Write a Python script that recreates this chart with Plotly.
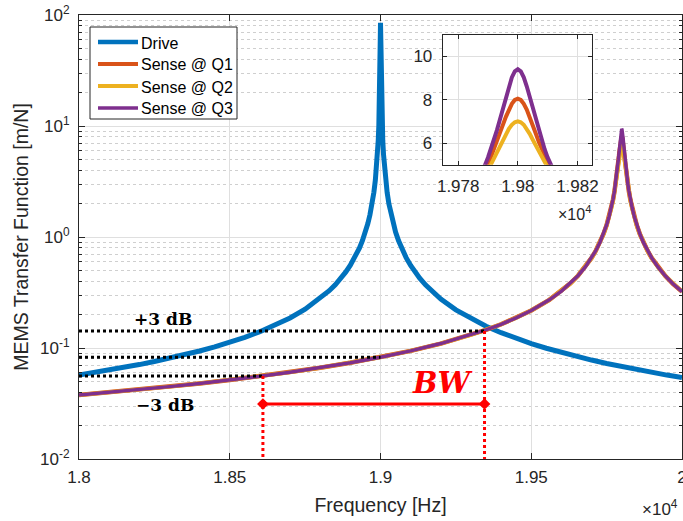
import math
import plotly.graph_objects as go

# ---------------- data ----------------
drive_freq = [18000, 18050, 18100, 18150, 18200, 18250, 18300, 18350, 18400, 18450,
              18500, 18550, 18600, 18650, 18700, 18750, 18800,
              18830, 18850, 18870, 18885, 18900, 18915, 18930, 18940, 18950, 18958,
              18965, 18972, 18978, 18983, 18987, 18990, 18992.5, 18994.5, 18996, 18997,
              18998, 18998.5, 18999, 18999.5,
              19000,
              19000.5, 19001, 19001.5, 19002, 19003, 19004, 19005.5, 19007.5, 19010, 19013,
              19017, 19022, 19028, 19035, 19042, 19050, 19060, 19070, 19085, 19100,
              19115, 19130, 19150, 19170,
              19200, 19250, 19300, 19350, 19400, 19450, 19500, 19550, 19600, 19650,
              19700, 19750, 19800, 19850, 19900, 19950, 20000]
drive_tf = [0.05703, 0.05995, 0.06319, 0.06682, 0.07090, 0.07553, 0.08081, 0.08691, 0.09403, 0.10244,
            0.11253, 0.12487, 0.14029, 0.16012, 0.18656, 0.22358, 0.27910,
            0.32809, 0.37164, 0.42859, 0.48430, 0.55673, 0.65471, 0.79470, 0.92690, 1.1120, 1.3235,
            1.5879, 1.9845, 2.5254, 3.2677, 4.2727, 5.5541, 7.405, 10.097, 13.883, 18.51,
            26.39, 33.94, 46.48, 67.5,
            84.98,
            67.5, 46.48, 33.94, 26.39, 18.50, 13.880, 10.094, 7.402, 5.551, 4.2698,
            3.2648, 2.5225, 1.9816, 1.5850, 1.3206, 1.1091, 0.92398, 0.79177, 0.65180, 0.55381,
            0.48138, 0.42567, 0.36872, 0.32517,
            0.27618, 0.22065, 0.18364, 0.15720, 0.13737, 0.12195, 0.10961, 0.09952, 0.09111, 0.08399,
            0.07789, 0.07260, 0.06798, 0.06390, 0.06027, 0.05702, 0.05410]

sense_freq = [18000, 18100, 18200, 18300, 18400, 18500, 18600, 18700, 18800, 18900,
              19000, 19100, 19200, 19300, 19350, 19400, 19450, 19500, 19560,
              19600, 19630, 19655, 19680, 19700,
              19714, 19728, 19740, 19750, 19758, 19765, 19771, 19776, 19780, 19783,
              19786, 19787, 19788, 19789, 19790, 19791, 19792, 19793, 19794, 19795,
              19796, 19797, 19798, 19799, 19800, 19801, 19802, 19803, 19804, 19805,
              19806, 19807, 19808, 19809, 19810, 19811, 19812, 19813, 19814,
              19817, 19820, 19824, 19829, 19835, 19842, 19850, 19860, 19872, 19886,
              19900, 19920, 19945, 19970, 20000]
# far-from-resonance part, identical for the three quality factors
sense_far = [0.03770, 0.03981, 0.04219, 0.04488, 0.04796, 0.05152, 0.05566, 0.06057, 0.06645, 0.07364,
             0.08264, 0.09420, 0.10962, 0.13120, 0.14559, 0.16358, 0.18672, 0.21756, 0.2714]
sense_q1 = sense_far + [
    0.3253, 0.3822, 0.4477, 0.5402, 0.6473,
    0.7515, 0.8957, 1.0716, 1.2806, 1.5162, 1.8051, 2.1537, 2.5602, 3.0058, 3.4449,
    4.011, 4.236, 4.483, 4.752, 5.046, 5.365, 5.708, 6.073, 6.452, 6.836,
    7.207, 7.541, 7.811, 7.987, 8.048, 7.987, 7.811, 7.541, 7.207, 6.836,
    6.452, 6.073, 5.708, 5.365, 5.046, 4.752, 4.483, 4.236, 4.011,
    3.4425, 3.0032, 2.5574, 2.1508, 1.8021, 1.5131, 1.2774, 1.0684, 0.8925, 0.7483,
    0.6440, 0.5369, 0.4444, 0.3790, 0.3220]
sense_q2 = sense_far + [
    0.3252, 0.3821, 0.4474, 0.5398, 0.6466,
    0.7505, 0.8939, 1.0685, 1.2754, 1.5076, 1.7907, 2.1293, 2.5195, 2.9406, 3.3477,
    3.860, 4.059, 4.275, 4.506, 4.754, 5.018, 5.296, 5.583, 5.874, 6.159,
    6.426, 6.659, 6.843, 6.960, 7.001, 6.960, 6.843, 6.659, 6.426, 6.159,
    5.874, 5.583, 5.296, 5.018, 4.754, 4.506, 4.275, 4.059, 3.860,
    3.3455, 2.9381, 2.5169, 2.1265, 1.7877, 1.5046, 1.2723, 1.0654, 0.8907, 0.7472,
    0.6434, 0.5366, 0.4442, 0.3788, 0.3219]
sense_q3 = sense_far + [
    0.3253, 0.3823, 0.4478, 0.5405, 0.6478,
    0.7524, 0.8971, 1.0741, 1.2849, 1.5234, 1.8174, 2.1746, 2.5956, 3.0635, 3.5325,
    4.151, 4.403, 4.681, 4.991, 5.334, 5.715, 6.135, 6.595, 7.090, 7.610,
    8.131, 8.620, 9.030, 9.305, 9.403, 9.305, 9.030, 8.620, 8.131, 7.610,
    7.090, 6.595, 6.135, 5.715, 5.334, 4.991, 4.681, 4.403, 4.151,
    3.5299, 3.0607, 2.5927, 2.1716, 1.8143, 1.5203, 1.2817, 1.0709, 0.8939, 0.7491,
    0.6446, 0.5373, 0.4446, 0.3791, 0.3220]

series_names = ["Drive", "Sense @ Q1", "Sense @ Q2", "Sense @ Q3"]

# dB guide levels and bandwidth markers
db_levels = [0.142, 0.0824, 0.056]        # +3 dB, reference, -3 dB
db_line_end = [19345, 19000, 18610]
bw_freq = [18610, 19345]
bw_level = 0.0313
y_floor = 0.01

# tick labels
x_tickvals = [18000, 18500, 19000, 19500, 20000]
x_ticktext = ["1.8", "1.85", "1.9", "1.95", "2"]
y_tickvals = [0.01, 0.1, 1, 10, 100]
y_ticktext = ["10<sup>-2</sup>", "10<sup>-1</sup>", "10<sup>0</sup>", "10<sup>1</sup>", "10<sup>2</sup>"]
inset_x_tickvals = [19780, 19800, 19820]
inset_x_ticktext = ["1.978", "1.98", "1.982"]
inset_y_tickvals = [6, 8, 10]

# ---------------- styles ----------------
C_DRIVE = "#0072BD"
C_Q1 = "#D95319"
C_Q2 = "#EDB120"
C_Q3 = "#7E2F8E"
COLORS = [C_DRIVE, C_Q1, C_Q2, C_Q3]
AX = "#262626"
GRID = "#DFDFDF"
MINOR_GRID = "#CFCFCF"
FONT = "Liberation Sans"
SERIF = "DejaVu Serif"

W, H = 683, 521
ML, MR, MT, MB = 79, 1, 15, 62
pw, ph = W - ML - MR, H - MT - MB


def px_x(p):
    return (p - ML) / pw


def px_y(p):
    return (H - MB - p) / ph


fig = go.Figure()

fig.add_trace(go.Scatter(x=drive_freq, y=drive_tf, mode="lines", name=series_names[0],
                         showlegend=False, line=dict(color=C_DRIVE, width=5)))
for nm, vals, col, lw in [(series_names[1], sense_q1, C_Q1, 4.5),
                          (series_names[2], sense_q2, C_Q2, 4),
                          (series_names[3], sense_q3, C_Q3, 3.5)]:
    fig.add_trace(go.Scatter(x=sense_freq, y=vals, mode="lines", name=nm,
                             showlegend=False, line=dict(color=col, width=lw)))

# black dotted dB guide lines
for lvl, xe in zip(db_levels, db_line_end):
    fig.add_trace(go.Scatter(x=[drive_freq[0], xe], y=[lvl, lvl], mode="lines",
                             showlegend=False, hoverinfo="skip",
                             line=dict(color="black", width=3, dash="dot")))

# red vertical dotted lines
for xf, top in zip(bw_freq, [db_levels[2], db_levels[0]]):
    fig.add_trace(go.Scatter(x=[xf, xf], y=[top, y_floor], mode="lines",
                             showlegend=False, hoverinfo="skip",
                             line=dict(color="#FF0000", width=3, dash="dot")))

# bandwidth arrow
fig.add_trace(go.Scatter(x=bw_freq, y=[bw_level, bw_level], mode="lines+markers",
                         showlegend=False, hoverinfo="skip",
                         line=dict(color="#FF0000", width=3),
                         marker=dict(symbol="diamond", size=9, color="#FF0000")))

# inset traces
for nm, vals, col in [(series_names[1], sense_q1, C_Q1), (series_names[2], sense_q2, C_Q2),
                      (series_names[3], sense_q3, C_Q3)]:
    fig.add_trace(go.Scatter(x=sense_freq, y=vals, mode="lines", name=nm, showlegend=False,
                             xaxis="x2", yaxis="y2",
                             line=dict(color=col, width=4)))

minor_y = [m * 10 ** e for e in range(-2, 2) for m in range(2, 10)]

fig.update_layout(
    width=W, height=H,
    margin=dict(l=ML, r=MR, t=MT, b=MB, autoexpand=False),
    paper_bgcolor="white", plot_bgcolor="white",
    font=dict(family=FONT, size=17, color=AX),
    showlegend=False,
    xaxis=dict(
        range=[18000, 20000], tickvals=x_tickvals, ticktext=x_ticktext,
        ticks="inside", ticklen=6, tickcolor=AX, showline=True, linecolor=AX,
        linewidth=1, mirror="allticks", showgrid=True, gridcolor=GRID, gridwidth=1,
        zeroline=False, ticklabelstandoff=3, automargin=False, ticklabeloverflow="allow",
        title=dict(text="Frequency [Hz]", font=dict(size=19.5, color=AX), standoff=11),
        domain=[0, 1],
    ),
    yaxis=dict(
        type="log", range=[-2, 2], tickvals=y_tickvals, ticktext=y_ticktext,
        ticks="inside", ticklen=6, tickcolor=AX, showline=True, linecolor=AX,
        linewidth=1, mirror="allticks", showgrid=True, gridcolor=GRID, gridwidth=1,
        zeroline=False, ticklabelstandoff=5, automargin=False, ticklabeloverflow="allow",
        minor=dict(tickvals=minor_y, ticks="inside", ticklen=3, tickcolor=AX,
                   showgrid=True, gridcolor=MINOR_GRID, griddash="dot", gridwidth=1),
        title=dict(text="MEMS Transfer Function [m/N]", font=dict(size=19.5, color=AX),
                   standoff=6),
        domain=[0, 1],
    ),
    xaxis2=dict(
        domain=[px_x(442.7), px_x(591.7)], anchor="y2",
        range=[19774.8, 19824.8], tickvals=inset_x_tickvals, ticktext=inset_x_ticktext,
        ticks="inside", ticklen=4, tickcolor=AX, showline=True, linecolor=AX,
        mirror="allticks", showgrid=True, gridcolor=GRID, zeroline=False,
        ticklabelstandoff=6, automargin=False, ticklabeloverflow="allow",
    ),
    yaxis2=dict(
        domain=[px_y(164.7), px_y(34.7)], anchor="x2",
        range=[5, 11], tickvals=inset_y_tickvals,
        ticks="inside", ticklen=4, tickcolor=AX, showline=True, linecolor=AX,
        mirror="allticks", showgrid=True, gridcolor=GRID, zeroline=False,
        ticklabelstandoff=6, automargin=False, ticklabeloverflow="allow",
    ),
)

# legend box (drawn by hand to match the reference layout)
shapes = [dict(type="rect", xref="paper", yref="paper", layer="above",
               x0=px_x(90), x1=px_x(237), y0=px_y(119), y1=px_y(27),
               fillcolor="white", line=dict(color=AX, width=1))]
legend_rows = [42, 64, 86, 108]
legend_lw = [4.5, 4, 4, 3.5]
annotations = []
for nm, col, row, lw in zip(series_names, COLORS, legend_rows, legend_lw):
    shapes.append(dict(type="line", xref="paper", yref="paper", layer="above",
                       x0=px_x(98), x1=px_x(138), y0=px_y(row), y1=px_y(row),
                       line=dict(color=col, width=lw)))
    annotations.append(dict(x=px_x(139), y=px_y(row + 1), xref="paper", yref="paper",
                            xanchor="left", yanchor="middle", text=nm, showarrow=False,
                            font=dict(family=FONT, size=16, color="black")))

annotations += [
    dict(x=18279, y=math.log10(0.1814), xref="x", yref="y", text="<b>+3 dB</b>",
         showarrow=False, font=dict(family=SERIF, size=17, color="black")),
    dict(x=18286, y=math.log10(0.0306), xref="x", yref="y", text="<b>\u22123 dB</b>",
         showarrow=False, font=dict(family=SERIF, size=17, color="black")),
    dict(x=19205, y=math.log10(0.048), xref="x", yref="y", text="<b><i>BW</i></b>",
         showarrow=False, font=dict(family=SERIF, size=29, color="#FF0000")),
    dict(x=px_x(640), y=px_y(508), xref="paper", yref="paper", xanchor="left",
         yanchor="middle", text="\u00d710<sup>4</sup>", showarrow=False,
         font=dict(family=FONT, size=17, color=AX)),
    dict(x=px_x(593), y=px_y(213), xref="paper", yref="paper", xanchor="right",
         yanchor="middle", text="\u00d710<sup>4</sup>", showarrow=False,
         font=dict(family=FONT, size=16, color=AX)),
]
fig.update_layout(shapes=shapes, annotations=annotations)

fig.write_html("out.html",
               config={"displayModeBar": False},
               post_script="document.body.style.margin='0px';"
                           "document.body.style.overflow='hidden';")
